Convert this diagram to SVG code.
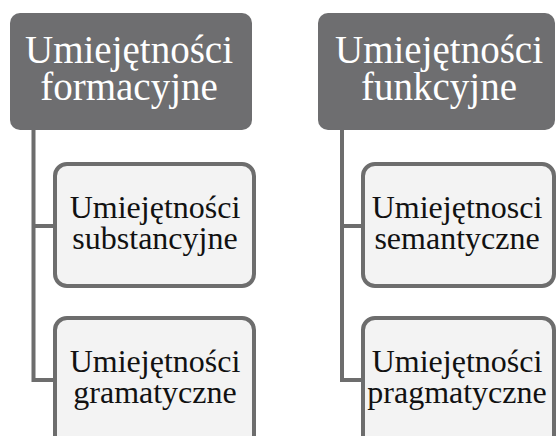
<svg xmlns="http://www.w3.org/2000/svg" width="556" height="436" viewBox="0 0 556 436">
<style>
.top{fill:#6e6e70}
.child{fill:#f3f3f3;stroke:#6d6d6d;stroke-width:4}
.tt{font-family:'Liberation Serif','Times New Roman',Times,'DejaVu Serif',serif;font-size:39px;fill:#ffffff;text-anchor:middle}
.ct{font-family:'Liberation Serif','Times New Roman',Times,'DejaVu Serif',serif;font-size:32px;fill:#111111;text-anchor:middle}
.conn{fill:none;stroke:#6d6d6d;stroke-width:4}
</style>
<rect width="556" height="436" fill="#ffffff"/>
<g id="connectors">
<path class="conn" d="M33.5 130 V380 H55 M33.5 226 H55"/>
<path class="conn" d="M342 130 V380 H363 M342 226 H363"/>
</g>
<g id="n1">
<rect class="top" x="10" y="13" width="242" height="117" rx="10"/>
<text class="tt" x="129" y="63">Umiejętności</text>
<text class="tt" x="129" y="100">formacyjne</text>
</g>
<g id="n2">
<rect class="top" x="318" y="13" width="237" height="117" rx="10"/>
<text class="tt" x="439" y="63">Umiejętności</text>
<text class="tt" x="439" y="100">funkcyjne</text>
</g>
<g id="n3">
<rect class="child" x="55" y="164" width="199" height="122" rx="12"/>
<text class="ct" x="155" y="218">Umiejętności</text>
<text class="ct" x="155" y="249">substancyjne</text>
</g>
<g id="n4">
<rect class="child" x="55" y="318" width="199" height="130" rx="12"/>
<text class="ct" x="155" y="372">Umiejętności</text>
<text class="ct" x="155" y="403">gramatyczne</text>
</g>
<g id="n5">
<rect class="child" x="363" y="164" width="191" height="122" rx="12"/>
<text class="ct" x="457" y="218">Umiejętnosci</text>
<text class="ct" x="457" y="249">semantyczne</text>
</g>
<g id="n6">
<rect class="child" x="363" y="318" width="191" height="130" rx="12"/>
<text class="ct" x="457" y="372">Umiejętności</text>
<text class="ct" x="457" y="403">pragmatyczne</text>
</g>
</svg>
